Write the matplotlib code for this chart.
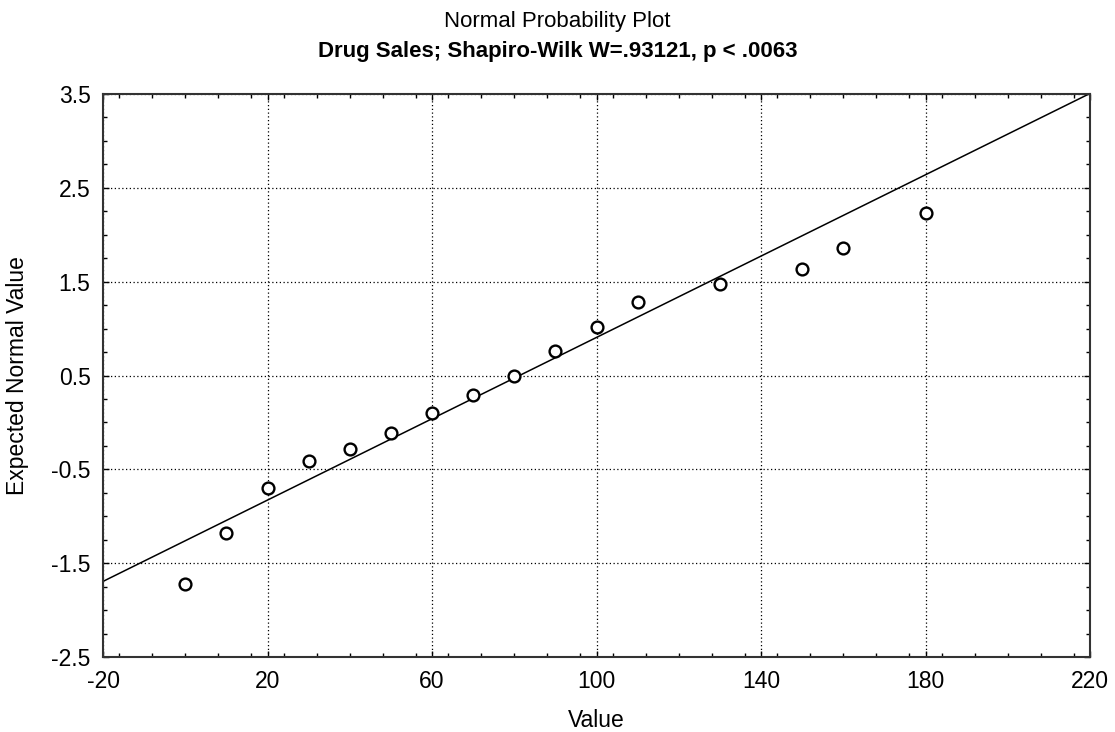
import matplotlib.pyplot as plt
from matplotlib.ticker import MultipleLocator

plt.rcParams['font.family'] = ['Liberation Sans', 'DejaVu Sans']

values = [0, 10, 20, 30, 40, 50, 60, 70, 80, 90, 100, 110, 130, 150, 160, 180]
expected = [-1.725, -1.183, -0.696, -0.407, -0.286, -0.111, 0.103, 0.295,
            0.500, 0.766, 1.014, 1.287, 1.472, 1.639, 1.857, 2.235]

# reference line: expected = (value - mean) / sd
line_mean = 58.2
line_sd = 46.15
line_x = [-20, 220]

x_ticks = [-20, 20, 60, 100, 140, 180, 220]
y_ticks = [-2.5, -1.5, -0.5, 0.5, 1.5, 2.5, 3.5]

fig = plt.figure(figsize=(11.15, 7.32), dpi=100)
ax = fig.add_axes([103 / 1115, 1 - 657 / 732, (1090 - 103) / 1115, (657 - 94) / 732])

line_y = [(x - line_mean) / line_sd for x in line_x]
ax.plot(line_x, line_y, color='black', lw=1.1, zorder=2)
ax.plot(values, expected, 'o', mfc='white', mec='black', ms=8.5, mew=1.7, zorder=3, clip_on=False)

ax.set_xlim(-20, 220)
ax.set_ylim(-2.5, 3.5)
ax.set_xticks(x_ticks)
ax.set_xticklabels([str(t) for t in x_ticks])
ax.set_yticks(y_ticks)
ax.set_yticklabels([('%g' % t) for t in y_ticks])
ax.xaxis.set_minor_locator(MultipleLocator(8))
ax.yaxis.set_minor_locator(MultipleLocator(0.25))

ax.grid(True, which='major', color='black', linestyle=(0, (1, 2)), lw=0.9)
ax.tick_params(which='both', direction='in', top=True, right=True, labelsize=16.5, color='black')
ax.tick_params(which='major', length=4, width=1, pad=9)
ax.tick_params(which='minor', length=3, width=1)
for s in ax.spines.values():
    s.set_linewidth(1.5)
    s.set_color('#333333')

ax.set_xlabel('Value', fontsize=16.5, labelpad=12)
ax.set_ylabel('Expected Normal Value', fontsize=16.5, labelpad=16)

fig.text(0.5, 1 - 21 / 732, 'Normal Probability Plot', ha='center', va='center', fontsize=16)
fig.text(0.5, 1 - 51 / 732, 'Drug Sales; Shapiro-Wilk W=.93121, p < .0063',
         ha='center', va='center', fontsize=16, fontweight='bold')

fig.savefig('out.png', dpi=100)
